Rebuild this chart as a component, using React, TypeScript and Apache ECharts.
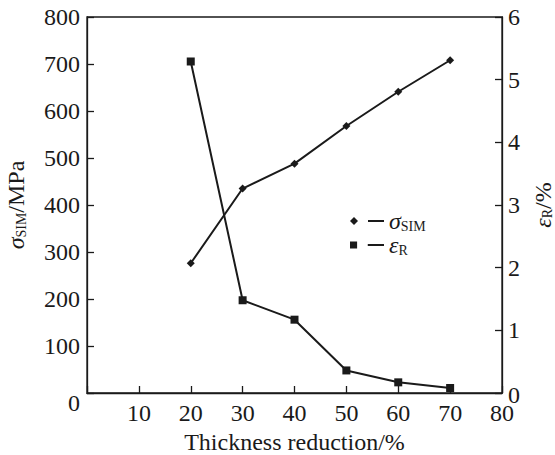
import React, { useEffect, useRef } from 'react';
import * as echarts from 'echarts';

const thickness = [20, 30, 40, 50, 60, 70];
const sigmaSIM = [276, 435, 488, 568, 641, 708];
const epsR = [5.29, 1.48, 1.17, 0.36, 0.17, 0.08];

const xMin = 0, xMax = 80, xStep = 10;
const yLMin = 0, yLMax = 800, yLStep = 100;
const yRMin = 0, yRMax = 6, yRStep = 1;

const FONT = 'Liberation Serif, Times New Roman, Tinos, serif';
const INK = '#1a1a1a';

const mainTok = { fontFamily: FONT, fontSize: 24, color: INK, lineHeight: 24, verticalAlign: 'middle' as const };
const subTok = { fontFamily: FONT, fontSize: 14, color: INK, lineHeight: 13, verticalAlign: 'bottom' as const };
const titleRich = {
  i: { ...mainTok, fontStyle: 'italic' as const },
  s: subTok,
  n: mainTok,
};
const legendRich = {
  i: { ...mainTok, lineHeight: 24, fontStyle: 'italic' as const },
  s: { ...subTok, lineHeight: 14 },
};

const DIAMOND_ICON = 'path://M4,0 L8,4 L4,8 L0,4 Z M18,3 L34,3 L34,5 L18,5 Z';
const SQUARE_ICON = 'path://M0.5,0.5 L7.5,0.5 L7.5,7.5 L0.5,7.5 Z M18,3 L34,3 L34,5 L18,5 Z';

export default function App() {
  const ref = useRef<HTMLDivElement>(null);
  useEffect(() => {
    if (!ref.current) return;
    const chart = echarts.init(ref.current, undefined, { renderer: 'svg' });
    const axisLine = { show: true, lineStyle: { color: INK, width: 1.3 } };
    chart.setOption({
      animation: false,
      backgroundColor: '#fff',
      grid: {
        left: 87, right: 53, top: 17, bottom: 62,
        containLabel: false,
        outerBoundsMode: 'none',
        show: true, borderColor: INK, borderWidth: 1.3, backgroundColor: 'transparent',
      },
      legend: {
        orient: 'vertical',
        left: 345,
        top: 204,
        itemWidth: 34,
        itemHeight: 8,
        itemGap: 0,
        selectedMode: false,
        data: [
          { name: 'sigma', icon: DIAMOND_ICON, itemStyle: { color: INK } },
          { name: 'eps', icon: SQUARE_ICON, itemStyle: { color: INK } },
        ],
        formatter: (name: string) => (name === 'sigma' ? '{i|σ}{s|SIM}' : '{i|ε}{s|R}'),
        textStyle: { fontFamily: FONT, fontSize: 24, color: INK, rich: legendRich },
      },
      xAxis: {
        type: 'value',
        min: xMin,
        max: xMax,
        interval: xStep,
        axisLine,
        axisTick: { show: true, inside: true, length: 7, lineStyle: { color: INK, width: 1.3 } },
        splitLine: { show: false },
        axisLabel: {
          margin: 8,
          fontFamily: FONT,
          fontSize: 24,
          color: INK,
          formatter: (v: number) => (v === 0 ? '' : String(v)),
        },
        name: 'Thickness reduction/%',
        nameLocation: 'middle',
        nameGap: 36,
        nameTextStyle: { fontFamily: FONT, fontSize: 24, color: INK },
      },
      yAxis: [
        {
          type: 'value',
          position: 'left',
          min: yLMin,
          max: yLMax,
          interval: yLStep,
          axisLine,
          axisTick: { show: true, inside: true, length: 7, lineStyle: { color: INK, width: 1.3 } },
          splitLine: { show: false },
          axisLabel: {
            margin: 7,
            fontFamily: FONT,
            fontSize: 24,
            color: INK,
            formatter: (v: number) => (v === 0 ? '{z|0}' : String(v)),
            rich: {
              z: { fontFamily: FONT, fontSize: 24, color: INK, padding: [20, 0, 0, 0] },
            },
          },
          name: '{i|σ}{s|SIM}{n|/MPa}',
          nameLocation: 'middle',
          nameRotate: 90,
          nameGap: 59,
          nameTextStyle: { fontFamily: FONT, fontSize: 24, color: INK, rich: titleRich },
        },
        {
          type: 'value',
          position: 'right',
          min: yRMin,
          max: yRMax,
          interval: yRStep,
          axisLine,
          axisTick: { show: true, inside: true, length: 7, lineStyle: { color: INK, width: 1.3 } },
          splitLine: { show: false },
          axisLabel: {
            margin: 6,
            fontFamily: FONT,
            fontSize: 24,
            color: INK,
            formatter: (v: number) => (v === 0 ? '{z|0}' : String(v)),
            rich: {
              z: { fontFamily: FONT, fontSize: 24, color: INK, padding: [4, 0, 0, 0] },
            },
          },
          name: '{i|ε}{s|R}{n|/%}',
          nameLocation: 'middle',
          nameRotate: 90,
          nameGap: 16,
          nameTextStyle: { fontFamily: FONT, fontSize: 24, color: INK, rich: titleRich },
        },
      ],
      series: [
        {
          name: 'sigma',
          type: 'line',
          yAxisIndex: 0,
          data: thickness.map((t, i) => [t, sigmaSIM[i]]),
          symbol: 'diamond',
          symbolSize: 8,
          lineStyle: { color: INK, width: 2 },
          itemStyle: { color: INK },
        },
        {
          name: 'eps',
          type: 'line',
          yAxisIndex: 1,
          data: thickness.map((t, i) => [t, epsR[i]]),
          symbol: 'rect',
          symbolSize: 8,
          lineStyle: { color: INK, width: 2 },
          itemStyle: { color: INK },
        },
      ],
    });
    return () => chart.dispose();
  }, []);
  return <div ref={ref} style={{ position: 'fixed', left: 0, top: 0, width: 555, height: 455 }} />;
}
